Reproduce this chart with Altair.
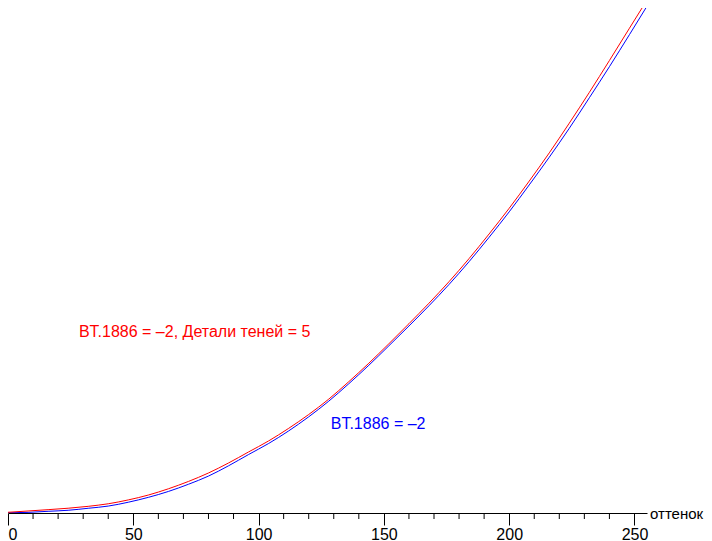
import altair as alt
import pandas as pd

# Levels (оттенок) at which the curves were read
levels = [0, 8, 16, 24, 32, 40, 48, 56, 64, 72, 80, 88, 96, 104, 112, 120, 128,
          136, 144, 152, 160, 168, 176, 184, 192, 200, 208, 216, 224, 232, 240, 248, 255]

# Red curve: BT.1886 = -2, Детали теней = 5 (percent of top)
red_vals = [0.14, 0.39, 0.65, 0.93, 1.30, 1.80, 2.55, 3.50, 4.72, 6.15, 7.80, 9.75,
            11.90, 14.05, 16.5, 19.2, 22.2, 25.6, 29.2, 33.0, 36.9, 40.9, 45.1,
            49.6, 54.4, 59.4, 64.7, 70.2, 76.0, 82.0, 88.2, 94.5, 100.0]

# Blue curve: BT.1886 = -2
blue_vals = [0.05, 0.12, 0.33, 0.53, 0.92, 1.35, 2.10, 3.05, 4.20, 5.60, 7.20, 9.20,
             11.40, 13.55, 16.0, 18.75, 21.8, 25.2, 28.8, 32.6, 36.45, 40.4, 44.55,
             49.0, 53.75, 58.7, 63.95, 69.35, 75.0, 80.95, 87.0, 93.25, 98.8]

major_ticks = [0, 50, 100, 150, 200, 250]
minor_ticks = [10, 20, 30, 40, 60, 70, 80, 90, 110, 120, 130, 140,
               160, 170, 180, 190, 210, 220, 230, 240]

red_label = "BT.1886 = \u20132, Детали теней = 5"
blue_label = "BT.1886 = \u20132"
axis_title = "оттенок"

W, H = 639, 505
FONT = "Liberation Sans"

df_red = pd.DataFrame({"level": levels, "value": red_vals})
df_blue = pd.DataFrame({"level": levels, "value": blue_vals})
df_minor = pd.DataFrame({"level": minor_ticks})

xscale = alt.Scale(domain=[0, 255], nice=False, zero=False)
yscale = alt.Scale(domain=[0, 98.44], nice=False, zero=False)

xaxis = alt.Axis(
    values=major_ticks,
    tickSize=12,
    labelAlign={"condition": {"test": "datum.value === 0", "value": "left"}, "value": "center"},
    labelFont=FONT, labelFontSize=16, labelColor="black", labelPadding=1,
    labelOverlap=False, labelFlush=False,
    domainColor="black", domainWidth=1, tickColor="black", tickWidth=1,
    grid=False, title=None,
)

blue_line = alt.Chart(df_blue).mark_line(
    color="#0000FF", strokeWidth=1, clip=True, interpolate="monotone"
).encode(
    x=alt.X("level:Q", scale=xscale, axis=xaxis),
    y=alt.Y("value:Q", scale=yscale, axis=None),
)
red_line = alt.Chart(df_red).mark_line(
    color="#FF0000", strokeWidth=1, clip=True, interpolate="monotone"
).encode(
    x=alt.X("level:Q", scale=xscale),
    y=alt.Y("value:Q", scale=yscale),
)

minor = alt.Chart(df_minor).mark_rule(color="black", strokeWidth=1).encode(
    x=alt.X("level:Q", scale=xscale),
    y=alt.value(H),
    y2=alt.value(H + 6),
)

ann_red = alt.Chart(pd.DataFrame({"level": [28.3], "value": [35.3], "t": [red_label]})).mark_text(
    align="left", baseline="middle", font=FONT, fontSize=16, color="#FF0000"
).encode(x=alt.X("level:Q", scale=xscale), y=alt.Y("value:Q", scale=yscale), text="t:N")

ann_blue = alt.Chart(pd.DataFrame({"level": [128.8], "value": [17.35], "t": [blue_label]})).mark_text(
    align="left", baseline="middle", font=FONT, fontSize=16, color="#0000FF"
).encode(x=alt.X("level:Q", scale=xscale), y=alt.Y("value:Q", scale=yscale), text="t:N")

title_txt = alt.Chart(pd.DataFrame({"t": [axis_title]})).mark_text(
    align="left", baseline="middle", font=FONT, fontSize=15, color="black"
).encode(x=alt.value(642), y=alt.value(H + 1), text="t:N")

chart = alt.layer(blue_line, red_line, minor, ann_red, ann_blue, title_txt).properties(
    width=W, height=H,
    autosize=alt.AutoSizeParams(type="none"),
    padding={"left": 0, "top": 0, "right": 57, "bottom": 28},
    background="white",
).configure_view(stroke=None)

chart.save("out.html", embed_options={"renderer": "svg", "actions": False})
